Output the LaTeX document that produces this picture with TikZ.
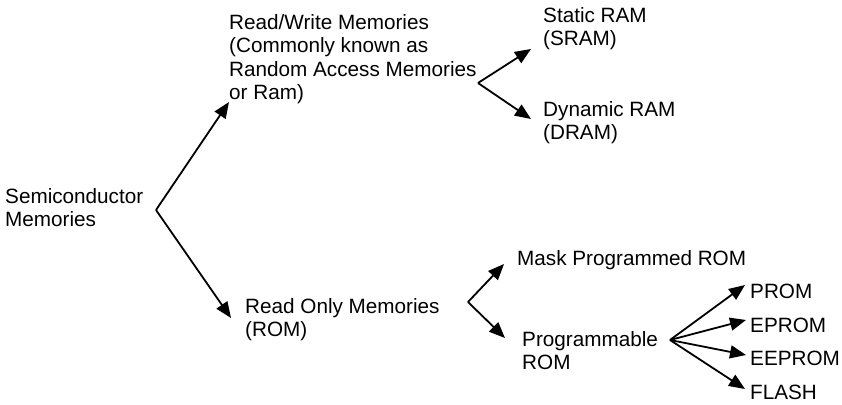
\documentclass[tikz,border=0pt]{standalone}
\usepackage{fontspec}
\setmainfont{Liberation Sans}
\usetikzlibrary{arrows.meta}
\begin{document}
\begin{tikzpicture}[x=1pt,y=-1pt,
  lbl/.style={anchor=base west,inner sep=0pt,align=left,font=\fontsize{20.7}{23.5}\selectfont},
  arr/.style={line width=1.8pt,-{Triangle[length=16pt,width=13pt]}}]
\useasboundingbox (0,0) rectangle (842,404);
% nodes (anchor = baseline of the last line)
\node[lbl] (sc) at (5,226.5) {Semiconductor\\Memories};
\node[lbl] (rw) at (229,99.5) {Read/Write Memories\\(Commonly known as\\Random Access Memories\\or Ram)};
\node[lbl] (sram) at (543,45.5) {Static RAM\\(SRAM)};
\node[lbl] (dram) at (543,139.5) {Dynamic RAM\\(DRAM)};
\node[lbl] (rom) at (245,336.5) {Read Only Memories\\(ROM)};
\node[lbl] (mask) at (517,265) {Mask Programmed ROM};
\node[lbl] (prog) at (522,369.5) {Programmable\\ROM};
\node[lbl] (prom) at (750,298) {PROM};
\node[lbl] (eprom) at (750,332) {EPROM};
\node[lbl] (eeprom) at (750,365) {EEPROM};
\node[lbl] (flash) at (750,399) {FLASH};
% branch points and tips
\coordinate (v1) at (156,210);
\coordinate (t1a) at (229,102);
\coordinate (t1b) at (231,318);
\coordinate (v2) at (478,83);
\coordinate (t2a) at (531,49);
\coordinate (t2b) at (531,119);
\coordinate (v3) at (468,302);
\coordinate (t3a) at (504,264);
\coordinate (t3b) at (505,338);
\coordinate (v4) at (670,340);
\coordinate (t4a) at (745,285);
\coordinate (t4b) at (746,320);
\coordinate (t4c) at (746,355);
\coordinate (t4d) at (745,389);
% connectors
\draw[arr] (v1) -- (t1a);
\draw[arr] (v1) -- (t1b);
\draw[arr] (v2) -- (t2a);
\draw[arr] (v2) -- (t2b);
\draw[arr] (v3) -- (t3a);
\draw[arr] (v3) -- (t3b);
\draw[arr] (v4) -- (t4a);
\draw[arr] (v4) -- (t4b);
\draw[arr] (v4) -- (t4c);
\draw[arr] (v4) -- (t4d);
\end{tikzpicture}
\end{document}
